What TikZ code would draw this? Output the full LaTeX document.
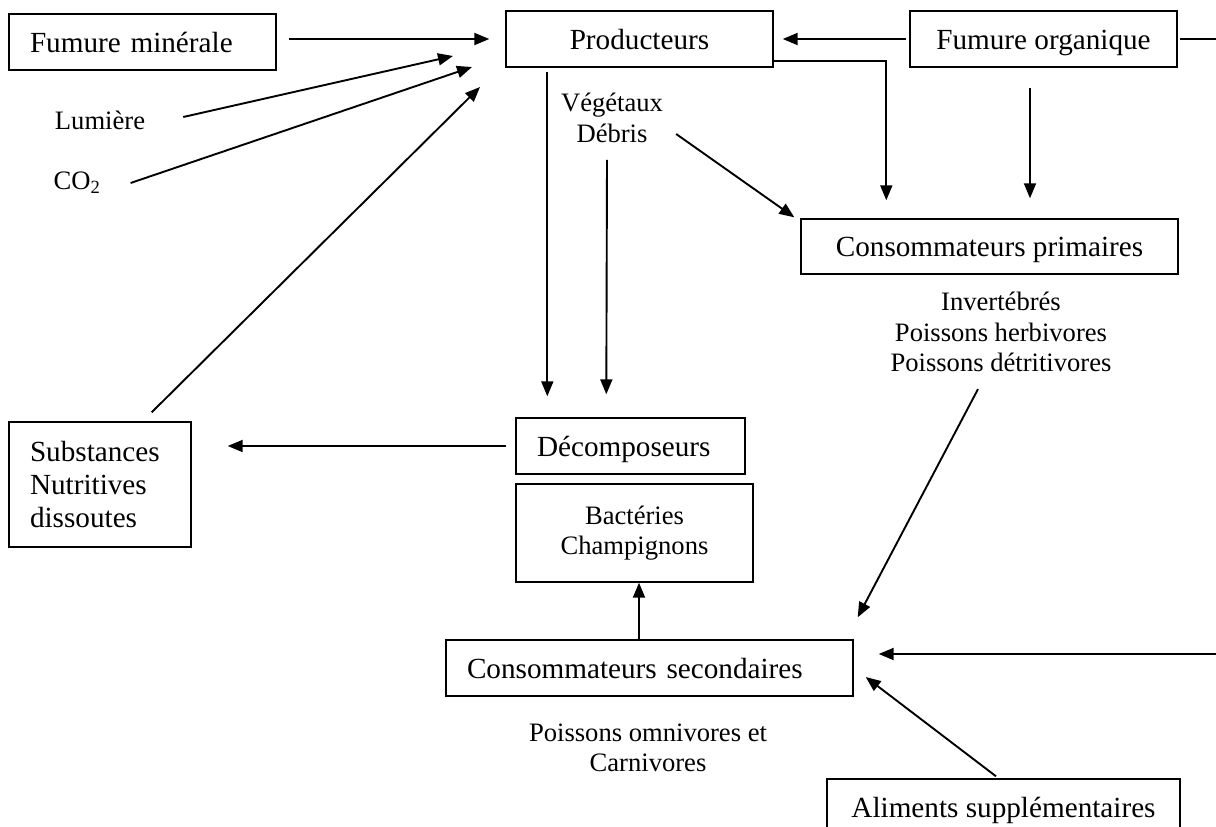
\documentclass[tikz,border=0pt]{standalone}
\usepackage{fontspec}
\setmainfont{Liberation Serif}
\usetikzlibrary{arrows.meta,calc}
\newcommand\bigf{\fontsize{29.2}{33}\selectfont}
\newcommand\smallf{\fontsize{26.6}{30.5}\selectfont}
\begin{document}
\begin{tikzpicture}[x=1pt,y=-1pt,
  box/.style={draw, line width=1.4pt, minimum height=56pt, inner sep=0pt, font=\bigf, align=center},
  oneline/.style={text height=24pt, text depth=4pt},
  leftbox/.style={align=left, inner xsep=21pt},
  lbl/.style={inner sep=2pt, font=\smallf, align=center},
  arr/.style={line width=1.9pt, -{Triangle[length=15pt,width=12pt]}},
  plain/.style={line width=1.9pt}]
\useasboundingbox (0,0) rectangle (1216,827);
\clip (0,0) rectangle (1216,827);
% nodes
\node[box, oneline, leftbox, text width=225pt] (fmin) at (142.5,42) {Fumure minérale};
\node[box, oneline, minimum width=267pt] (prod) at (639.5,39) {Producteurs};
\node[box, oneline, minimum width=267pt] (forg) at (1043.5,39) {Fumure organique};
\node[box, oneline, minimum width=377pt, minimum height=55pt] (cp) at (989.5,246.5) {Consommateurs primaires};
\node[lbl] (cptxt) at (1001,332) {Invertébrés\\Poissons herbivores\\Poissons détritivores};
\node[box, oneline, leftbox, text width=187pt] (dec) at (630.5,446) {Décomposeurs};
\node[box, minimum width=237pt, minimum height=98pt, font=\smallf] (bact) at (634.5,533) {Bactéries\\Champignons};
\node[box, leftbox, text width=140pt, minimum height=125pt] (subs) at (100,484.5) {Substances\\Nutritives\\dissoutes};
\node[box, oneline, leftbox, text width=365pt] (cs) at (649.5,668) {Consommateurs secondaires};
\node[lbl] (cstxt) at (648,748) {Poissons omnivores et\\Carnivores};
\node[box, oneline, minimum width=353pt] (alim) at (1003.5,807) {Aliments supplémentaires};
\node[lbl] (veg) at (612,118) {Végétaux\\Débris};
\node[lbl] (lum) at (100,120) {Lumière};
\node[lbl] (co2) at (77,183) {CO\textsubscript{2}};
% free ends
\coordinate (tipL) at (453,56);
\coordinate (tipC) at (472,67);
\coordinate (tipS) at (480,87);
\coordinate (edgeR) at (1216,654);
\coordinate (edgeT) at (1216,39);
% connectors
\draw[arr] ($(fmin.east |- prod.west)+(12,0)$) -- ($(prod.west)+(-16,0)$);
\draw[arr] ($(lum.east)+(36,-3)$) -- (tipL);
\draw[arr] ($(co2.east)+(28,0)$) -- (tipC);
\draw[arr] ($(subs.north east)+(-40,-9)$) -- (tipS);
\draw[arr] ($(forg.west)+(-3,0)$) -- ($(prod.east)+(9,0)$);
\draw[plain] ($(forg.east)+(2,0)$) -- (edgeT);
\draw[arr] ($(prod.south east)+(0,-7)$) -| ($(cp.north west)+(86,-18)$);
\draw[arr] ($(forg.south)+(-13.5,20)$) -- ($(cp.north)+(40.5,-20)$);
\draw[arr] ($(prod.south west)+(42,4)$) -- ($(dec.north west)+(32,-21)$);
\draw[arr] ($(veg.south)+(-5,15)$) -- ($(dec.north west)+(91,-23)$);
\draw[arr] ($(veg.east)+(11,16)$) -- ($(cp.north west)+(-6,-1)$);
\draw[arr] ($(dec.west)+(-9,0)$) -- ($(subs.east |- dec.west)+(36,0)$);
\draw[arr] ($(cs.north)+(-10.5,0)$) -- ($(cs.north |- bact.south)+(-10.5,0)$);
\draw[arr] ($(cptxt.south)+(-23,15)$) -- ($(cs.north east)+(4,-22)$);
\draw[arr] (edgeR) -- ($(cs.east)+(25,-14)$);
\draw[arr] ($(alim.north)+(-7.5,-2)$) -- ($(cs.east)+(12,9)$);
\end{tikzpicture}
\end{document}
